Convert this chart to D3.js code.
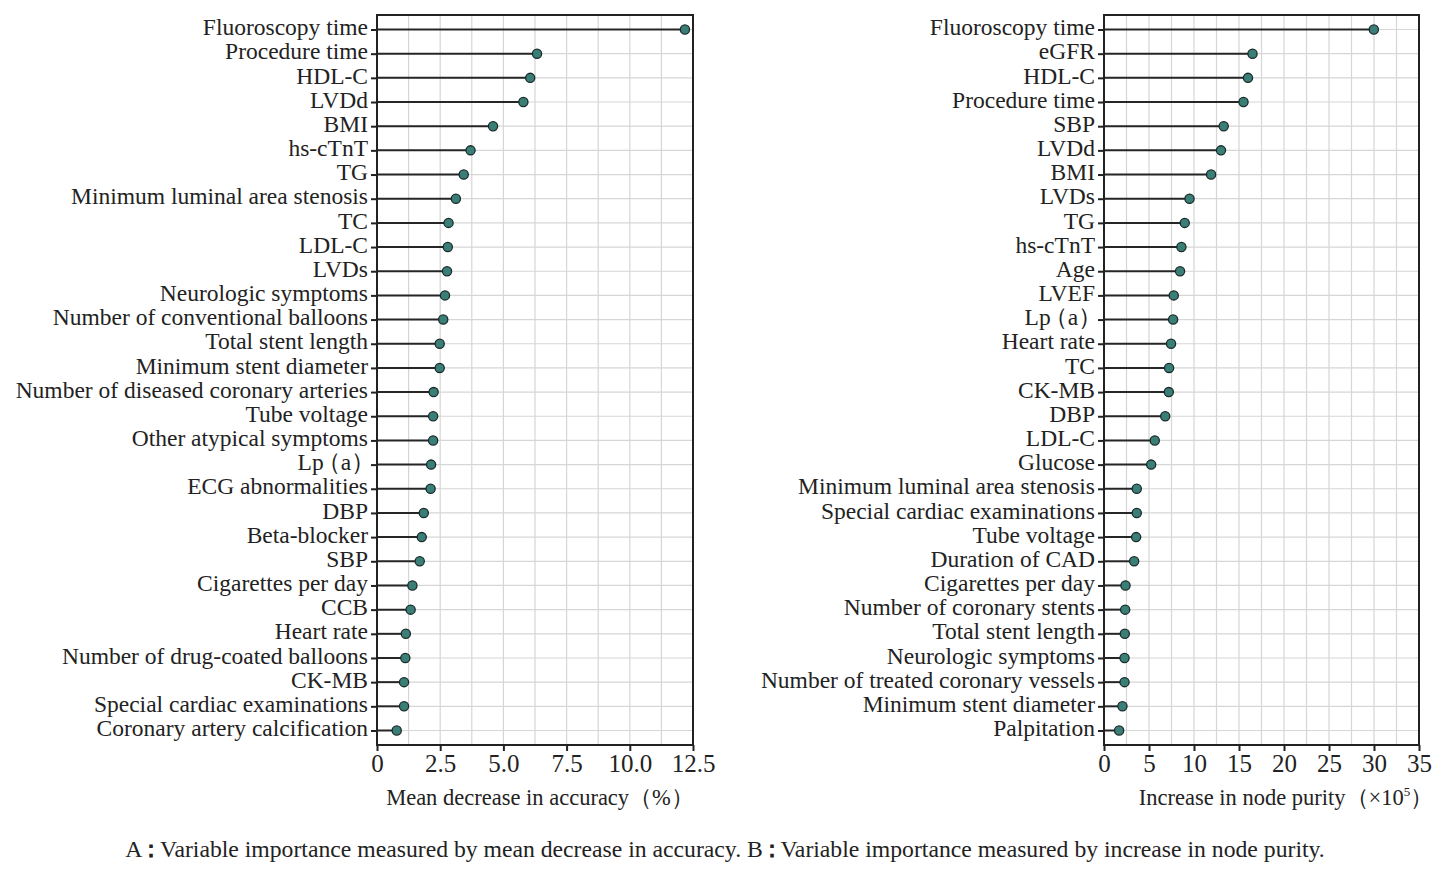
<!DOCTYPE html>
<html>
<head>
<meta charset="utf-8">
<script src="https://cdn.jsdelivr.net/npm/d3@7"></script>
<style>
  body { margin: 0; background: #fff; }
  text { font-family: "Liberation Serif", "DejaVu Serif", serif; fill: #222; }
</style>
</head>
<body>
<svg id="chart" width="1447" height="870"></svg>
<script>
// panel A: mean decrease in accuracy (%)
var accLabels = ["Fluoroscopy time", "Procedure time", "HDL-C", "LVDd", "BMI", "hs-cTnT", "TG",
  "Minimum luminal area stenosis", "TC", "LDL-C", "LVDs", "Neurologic symptoms",
  "Number of conventional balloons", "Total stent length", "Minimum stent diameter",
  "Number of diseased coronary arteries", "Tube voltage", "Other atypical symptoms", "Lp\uFF08a\uFF09",
  "ECG abnormalities", "DBP", "Beta-blocker", "SBP", "Cigarettes per day", "CCB", "Heart rate",
  "Number of drug-coated balloons", "CK-MB", "Special cardiac examinations", "Coronary artery calcification"];
var accValues = [12.18, 6.33, 6.06, 5.79, 4.59, 3.70, 3.43, 3.12, 2.83, 2.80, 2.77, 2.69, 2.62, 2.48, 2.48,
  2.24, 2.22, 2.22, 2.14, 2.12, 1.85, 1.77, 1.69, 1.40, 1.33, 1.14, 1.12, 1.07, 1.07, 0.78];
var accTicks = [0, 2.5, 5, 7.5, 10, 12.5];

// panel B: increase in node purity (x10^5)
var purLabels = ["Fluoroscopy time", "eGFR", "HDL-C", "Procedure time", "SBP", "LVDd", "BMI", "LVDs",
  "TG", "hs-cTnT", "Age", "LVEF", "Lp\uFF08a\uFF09", "Heart rate", "TC", "CK-MB", "DBP", "LDL-C", "Glucose",
  "Minimum luminal area stenosis", "Special cardiac examinations", "Tube voltage", "Duration of CAD",
  "Cigarettes per day", "Number of coronary stents", "Total stent length", "Neurologic symptoms",
  "Number of treated coronary vessels", "Minimum stent diameter", "Palpitation"];
var purValues = [29.98, 16.5, 16.0, 15.5, 13.3, 13.0, 11.9, 9.5, 8.97, 8.6, 8.45, 7.75, 7.68, 7.45, 7.23,
  7.2, 6.8, 5.64, 5.24, 3.64, 3.64, 3.57, 3.35, 2.39, 2.35, 2.31, 2.28, 2.28, 2.05, 1.68];
var purTicks = [0, 5, 10, 15, 20, 25, 30, 35];

var caption = "A\uFF1AVariable importance measured by mean decrease in accuracy. B\uFF1AVariable importance measured by increase in node purity.";

var svg = d3.select("#chart");
var plotTop = 15, plotBottom = 745;

// fullwidth punctuation carries half an em of blank space; tighten it
function tightText(sel) {
  sel.each(function() {
    var t = d3.select(this), s = t.text();
    if (!/[\uFF08\uFF09\uFF1A]/.test(s)) return;
    t.text(null);
    s.split(/([\uFF08\uFF09\uFF1A])/).forEach(function(part) {
      if (!part) return;
      var sp = t.append("tspan").text(part);
      if (part === "\uFF08") sp.attr("dx", "-0.3em");
      if (part === "\uFF09") sp.style("letter-spacing", "-0.3em");
      if (part === "\uFF1A") sp.attr("dx", "-0.12em").style("letter-spacing", "-0.15em").style("font-weight", "bold");
    });
  });
}

function drawPanel(labels, values, ticks, left, right, fmt, minorStep) {
  var g = svg.append("g");
  var x = d3.scaleLinear().domain([ticks[0], ticks[ticks.length - 1]]).range([left, right]);
  var y = d3.scalePoint().domain(labels).range([plotTop, plotBottom]).padding(0.6);

  // vertical grid, major + minor
  var grid = d3.range(ticks[0], ticks[ticks.length - 1] + 1e-9, minorStep);
  g.selectAll(".vg").data(grid).enter().append("line")
    .attr("x1", function(d) { return x(d); }).attr("x2", function(d) { return x(d); })
    .attr("y1", plotTop).attr("y2", plotBottom)
    .attr("stroke", "#d6d6d6").attr("stroke-width", 1.2);
  g.selectAll(".hg").data(labels).enter().append("line")
    .attr("x1", left).attr("x2", right)
    .attr("y1", function(d) { return y(d); }).attr("y2", function(d) { return y(d); })
    .attr("stroke", "#d6d6d6").attr("stroke-width", 1.2);

  // stems
  g.selectAll(".stem").data(values).enter().append("line")
    .attr("x1", x(0)).attr("x2", function(d) { return x(d); })
    .attr("y1", function(d, i) { return y(labels[i]); })
    .attr("y2", function(d, i) { return y(labels[i]); })
    .attr("stroke", "#262626").attr("stroke-width", 2);

  g.selectAll(".dot").data(values).enter().append("circle")
    .attr("cx", function(d) { return x(d); })
    .attr("cy", function(d, i) { return y(labels[i]); })
    .attr("r", 4.6)
    .attr("fill", "#3a7f77").attr("stroke", "#1c2b29").attr("stroke-width", 1.3);

  // frame
  g.append("rect").attr("x", left).attr("y", plotTop)
    .attr("width", right - left).attr("height", plotBottom - plotTop)
    .attr("fill", "none").attr("stroke", "#222").attr("stroke-width", 2);

  // y axis
  var ya = g.append("g").attr("transform", "translate(" + left + ",0)")
    .call(d3.axisLeft(y).tickSize(6).tickPadding(3));
  ya.select(".domain").remove();
  ya.selectAll("line").attr("stroke", "#222").attr("stroke-width", 2);
  ya.selectAll("text").style("font-size", "23.5px").attr("fill", "#222")
    .style("font-family", "'Liberation Serif', serif")
    .attr("dy", "0.22em")
    .call(tightText);

  // x axis
  var xa = g.append("g").attr("transform", "translate(0," + plotBottom + ")")
    .call(d3.axisBottom(x).tickValues(ticks).tickFormat(fmt).tickSize(6).tickPadding(3));
  xa.select(".domain").remove();
  xa.selectAll("line").attr("stroke", "#222").attr("stroke-width", 2);
  xa.selectAll("text").style("font-size", "25px").attr("fill", "#222")
    .style("font-family", "'Liberation Serif', serif");
  return g;
}

var gA = drawPanel(accLabels, accValues, accTicks, 377, 693,
  function(d) { return d === 0 ? "0" : d3.format(".1f")(d); }, 1.25);
var gB = drawPanel(purLabels, purValues, purTicks, 1104, 1419, d3.format("d"), 2.5);

gA.append("text").attr("x", 540).attr("y", 805).attr("text-anchor", "middle")
  .style("font-size", "22.5px").text("Mean decrease in accuracy\uFF08%\uFF09");

var tB = gB.append("text").attr("x", 1286).attr("y", 805).attr("text-anchor", "middle")
  .style("font-size", "22.5px");
tB.append("tspan").text("Increase in node purity\uFF08\u00D710");
tB.append("tspan").attr("dy", -9).style("font-size", "13px").text("5");
tB.append("tspan").attr("dy", 9).text("\uFF09");

svg.append("text").attr("x", 725).attr("y", 857).attr("text-anchor", "middle")
  .style("font-size", "23.7px").text(caption).call(tightText);
</script>
</body>
</html>
